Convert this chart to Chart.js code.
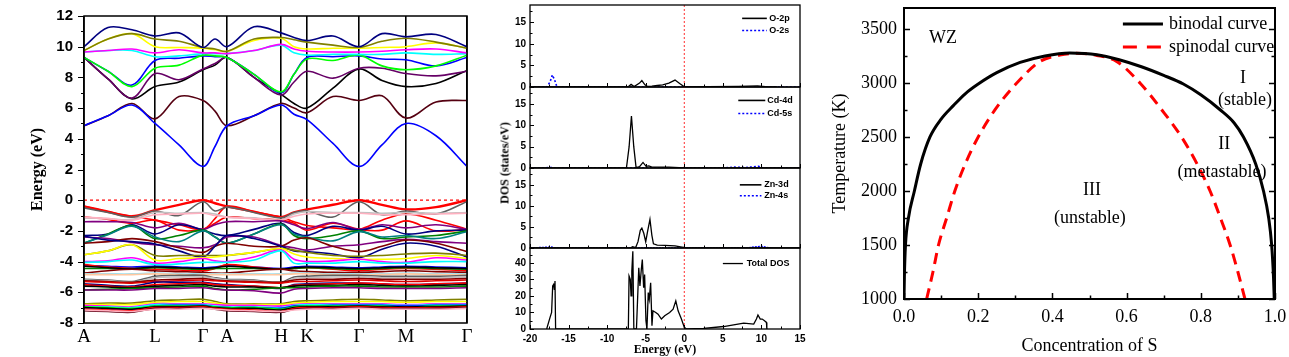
<!DOCTYPE html>
<html><head><meta charset="utf-8">
<script src="https://cdn.jsdelivr.net/npm/chart.js@4.4.1/dist/chart.umd.min.js"></script>
<style>
html,body{margin:0;padding:0;background:#fff;}
#wrap{position:relative;width:1289px;height:357px;overflow:hidden;background:#fff;}
canvas{position:absolute;}
#dosTitle{position:absolute;left:505px;top:163px;transform:translate(-50%,-50%) rotate(-90deg);font:bold 12px 'Liberation Serif',serif;white-space:nowrap;color:#000;}
</style></head><body>
<div id="wrap">
<canvas id="band" width="480" height="357" style="left:0;top:0;width:480px;height:357px"></canvas>
<canvas id="dos1" width="320" height="92" style="left:490px;top:0;width:320px;height:92px"></canvas>
<canvas id="dos2" width="320" height="91" style="left:490px;top:82px;width:320px;height:91px"></canvas>
<canvas id="dos3" width="320" height="90" style="left:490px;top:163px;width:320px;height:90px"></canvas>
<canvas id="dos4" width="320" height="114" style="left:490px;top:243px;width:320px;height:114px"></canvas>
<canvas id="phase" width="469" height="357" style="left:820px;top:0;width:469px;height:357px"></canvas>
<div id="dosTitle">DOS (states/eV)</div>
</div>
<script>
// ---------------- DATA ----------------
// Band structure: k-path positions (arbitrary units) and high-symmetry labels
const kPos = [0,24,48,71,95,119,131,143,170,197,210,223,249,275,298,322,352,383];
const kTicks = [0,71,119,143,197,223,275,322,383];
const kLabels = ['A','L','Γ','A','H','K','Γ','M','Γ'];

// conduction bands (eV)
const cbNavy    = [10.0,11.25,11.1,10.7,10.9,9.95,10.5,10.0,11.3,10.9,10.6,10.4,10.7,10.0,10.85,10.65,10.8,10.0];
const cbOlive   = [9.75,10.5,10.85,10.5,10.35,9.95,9.85,9.7,10.5,10.6,10.45,10.3,10.1,9.95,10.35,10.55,10.3,9.9];
const cbYellow  = [9.75,10.5,10.85,10.0,9.95,9.9,9.8,9.7,10.4,10.55,10.0,9.85,9.9,9.9,9.95,10.0,10.25,9.9];
const cbMagenta = [9.65,9.75,9.85,9.6,9.8,9.6,9.6,9.55,9.75,10.15,9.85,9.7,9.65,9.65,9.7,9.8,9.85,9.6];
const cbCyan    = [9.65,9.75,9.75,9.35,9.4,9.55,9.55,9.55,9.75,10.1,9.6,9.45,9.5,9.5,9.5,9.6,9.5,9.55];
const cbGreen   = [9.3,8.4,7.4,8.6,8.8,9.45,9.4,9.3,8.2,7.05,8.2,9.2,9.1,9.45,8.75,8.5,8.75,9.45];
const cbBlueHi  = [9.3,8.4,7.5,9.1,9.25,9.4,9.35,9.3,8.2,7.0,8.2,9.3,9.35,9.4,9.2,9.15,8.75,9.3];
const cbPurple  = [9.3,7.9,6.65,8.25,7.85,8.55,8.9,9.3,8.0,6.85,7.7,8.4,7.95,8.6,8.6,8.25,8.1,8.4];
const cbBlack   = [9.3,7.9,6.6,7.4,7.7,8.5,8.8,9.3,8.0,6.9,6.3,6.0,7.3,8.55,7.8,7.4,7.6,8.45];
const cbBlueLow = [4.85,5.5,6.2,5.0,3.6,2.2,3.5,4.85,5.5,6.2,5.6,5.25,3.7,2.2,3.6,5.0,4.2,2.2];
const cbBrown   = [4.85,5.5,6.3,5.3,6.75,6.5,5.8,4.85,5.5,6.3,6.0,5.7,6.75,6.5,6.8,5.35,6.4,6.5];

// valence bands (eV)
const vbRedTop   = [-0.4,-0.75,-1.05,-0.65,-0.3,0,-0.2,-0.4,-0.75,-1.1,-0.8,-0.6,-0.3,0,-0.3,-0.6,-0.45,0];
const vbRed2     = [-0.4,-0.75,-1.05,-1.3,-1.6,-1.9,-1.2,-0.4,-0.75,-1.1,-1.4,-1.65,-1.8,-1.9,-1.3,-0.9,-1.3,-1.9];
const vbRed3     = [-1.1,-1.25,-1.5,-1.3,-1.95,-1.9,-1.5,-1.1,-1.2,-1.3,-1.5,-1.95,-1.5,-1.9,-1.95,-1.35,-2.0,-1.9];
const vbGray     = [-0.5,-0.8,-1.1,-0.7,-1.0,-0.1,-0.7,-0.45,-0.8,-1.15,-0.8,-0.7,-1.1,-0.1,-0.95,-0.7,-0.9,-0.1];
const vbLightGray= [-1.15,-1.2,-1.25,-0.8,-0.85,-0.8,-0.9,-1.1,-1.15,-1.3,-0.9,-0.75,-0.8,-0.8,-0.85,-0.8,-0.85,-0.8];
const vbPink     = [-1.1,-1.2,-1.3,-0.95,-0.9,-0.85,-1.0,-1.1,-1.2,-1.3,-1.05,-0.9,-0.85,-0.85,-0.95,-0.95,-0.9,-0.85];
const vbPurple1  = [-1.4,-1.4,-1.45,-1.8,-1.5,-1.9,-1.6,-1.4,-1.4,-1.35,-1.6,-1.85,-1.45,-1.9,-1.6,-1.8,-1.6,-1.9];
const vbNavy1    = [-2.3,-2.2,-1.6,-2.2,-1.6,-1.95,-2.2,-2.3,-1.9,-1.5,-2.1,-2.3,-1.7,-1.95,-1.7,-2.2,-2.0,-1.95];
const vbGreen    = [-2.8,-2.2,-1.65,-2.5,-2.3,-1.95,-2.4,-2.8,-2.2,-1.55,-2.3,-2.5,-2.3,-2.0,-2.5,-2.4,-2.3,-2.0];
const vbTeal     = [-2.8,-2.25,-1.7,-2.4,-2.7,-2.0,-2.4,-2.8,-2.2,-1.6,-2.2,-2.4,-2.65,-2.05,-2.4,-2.3,-2.5,-2.05];
const vbPurple2  = [-2.4,-2.5,-2.75,-2.9,-3.0,-3.1,-2.9,-2.4,-2.4,-2.95,-3.1,-3.25,-3.0,-2.9,-2.7,-2.55,-2.7,-2.8];
const vbDarkRed  = [-2.8,-2.7,-2.5,-2.7,-3.1,-3.4,-3.0,-2.8,-3.0,-3.0,-2.6,-2.45,-3.0,-3.35,-3.0,-2.6,-2.8,-3.35];
const vbNavy2    = [-2.35,-2.6,-2.7,-2.85,-3.3,-3.7,-3.0,-2.3,-2.5,-3.0,-3.3,-3.35,-3.5,-3.75,-3.2,-2.8,-3.0,-3.7];
const vbOlive    = [-3.55,-3.3,-2.9,-3.6,-3.6,-3.6,-3.6,-3.6,-3.4,-3.15,-3.25,-3.4,-3.6,-3.65,-3.6,-3.5,-3.45,-3.6];
const vbYellow   = [-3.55,-3.3,-2.9,-3.9,-3.8,-3.75,-3.7,-3.6,-3.4,-3.15,-3.5,-3.7,-3.8,-3.85,-3.85,-3.8,-3.6,-3.8];
const vbMagenta  = [-4.0,-3.95,-3.75,-4.1,-4.0,-3.8,-3.95,-4.0,-3.7,-3.25,-3.85,-4.0,-3.95,-3.85,-4.0,-4.05,-3.75,-3.9];
const vbCyan     = [-4.05,-4.0,-3.9,-4.2,-4.15,-4.05,-4.05,-4.05,-3.9,-3.3,-4.1,-4.1,-4.1,-4.0,-4.1,-4.1,-4.0,-4.0];
const vbBlue     = [-4.25,-4.3,-4.35,-4.3,-4.35,-4.4,-4.35,-4.25,-4.35,-4.45,-4.35,-4.3,-4.35,-4.4,-4.35,-4.3,-4.35,-4.4];
const vbRed4     = [-4.2,-4.35,-4.45,-4.5,-4.55,-4.6,-4.45,-4.2,-4.35,-4.5,-4.45,-4.4,-4.5,-4.6,-4.5,-4.45,-4.5,-4.6];
const vbGreen2   = [-4.45,-4.45,-4.5,-4.4,-4.45,-4.5,-4.45,-4.45,-4.45,-4.5,-4.45,-4.4,-4.45,-4.5,-4.45,-4.4,-4.45,-4.5];
const vbBlack1   = [-4.3,-4.4,-4.45,-4.35,-4.4,-4.45,-4.4,-4.3,-4.4,-4.5,-4.4,-4.35,-4.4,-4.45,-4.4,-4.35,-4.4,-4.45];
const vbMaroon   = [-4.75,-4.6,-4.5,-4.6,-4.65,-4.7,-4.75,-4.75,-4.6,-4.5,-4.6,-4.65,-4.7,-4.7,-4.65,-4.6,-4.65,-4.7];
const vbLightBlue= [-4.8,-4.8,-4.8,-4.75,-4.8,-4.8,-4.8,-4.8,-4.8,-4.8,-4.75,-4.75,-4.8,-4.8,-4.8,-4.75,-4.8,-4.8];
const vbPeach    = [-4.85,-4.85,-4.85,-4.8,-4.85,-4.85,-4.85,-4.85,-4.85,-4.85,-4.8,-4.8,-4.85,-4.85,-4.85,-4.8,-4.85,-4.85];
const vbGray2    = [-5.15,-5.2,-5.3,-4.95,-4.9,-4.9,-5.05,-5.15,-5.2,-5.35,-5.0,-4.95,-4.9,-4.9,-4.95,-4.95,-4.95,-4.9];
const vbLightGray2=[-5.2,-5.25,-5.35,-5.05,-5.0,-5.0,-5.1,-5.2,-5.25,-5.4,-5.1,-5.05,-5.0,-5.0,-5.05,-5.05,-5.05,-5.0];
const vbMaroon2  = [-5.25,-5.3,-5.35,-5.2,-5.15,-5.1,-5.2,-5.25,-5.3,-5.35,-5.2,-5.15,-5.15,-5.1,-5.15,-5.15,-5.15,-5.1];
const vbRed5     = [-5.3,-5.35,-5.4,-5.3,-5.25,-5.2,-5.25,-5.3,-5.35,-5.4,-5.3,-5.3,-5.25,-5.2,-5.25,-5.3,-5.25,-5.2];
const vbNavy3    = [-5.45,-5.55,-5.6,-5.35,-5.35,-5.35,-5.45,-5.5,-5.6,-5.75,-5.5,-5.45,-5.4,-5.4,-5.45,-5.5,-5.45,-5.4];
const vbRed6     = [-5.5,-5.6,-5.65,-5.5,-5.45,-5.4,-5.5,-5.55,-5.6,-5.7,-5.55,-5.5,-5.45,-5.4,-5.45,-5.5,-5.45,-5.4];
const vbBlack2   = [-5.6,-5.65,-5.7,-5.6,-5.55,-5.5,-5.6,-5.65,-5.65,-5.7,-5.6,-5.55,-5.55,-5.5,-5.55,-5.6,-5.55,-5.5];
const vbGreen3   = [-5.85,-5.8,-5.75,-5.7,-5.65,-5.6,-5.75,-5.85,-5.8,-5.7,-5.7,-5.65,-5.6,-5.6,-5.65,-5.65,-5.65,-5.6];
const vbPurple3  = [-5.85,-5.85,-5.85,-5.75,-5.75,-5.7,-5.8,-5.85,-5.9,-6.05,-5.8,-5.75,-5.7,-5.7,-5.75,-5.75,-5.75,-5.7];
const vbOlive2   = [-6.75,-6.7,-6.7,-6.55,-6.5,-6.45,-6.6,-6.75,-6.75,-6.75,-6.6,-6.55,-6.5,-6.45,-6.5,-6.55,-6.5,-6.45];
const vbYellow2  = [-6.8,-6.8,-6.8,-6.65,-6.6,-6.6,-6.7,-6.8,-6.8,-6.8,-6.7,-6.65,-6.6,-6.6,-6.6,-6.65,-6.6,-6.6];
const vbMagenta2 = [-6.85,-6.9,-6.95,-6.75,-6.75,-6.75,-6.8,-6.85,-6.85,-6.9,-6.8,-6.75,-6.75,-6.75,-6.75,-6.8,-6.75,-6.75];
const vbCyan2    = [-6.95,-6.95,-7.0,-6.8,-6.8,-6.8,-6.9,-6.95,-6.95,-7.0,-6.85,-6.8,-6.8,-6.8,-6.8,-6.85,-6.8,-6.8];
const vbBlue2    = [-7.0,-7.05,-7.1,-6.9,-6.85,-6.85,-6.95,-7.0,-7.0,-7.05,-6.9,-6.9,-6.85,-6.85,-6.85,-6.9,-6.85,-6.85];
const vbGreen4   = [-6.95,-7.0,-7.05,-6.9,-6.9,-6.9,-6.95,-7.0,-7.0,-7.1,-6.95,-6.9,-6.9,-6.9,-6.9,-6.95,-6.9,-6.9];
const vbBlack3   = [-7.0,-7.05,-7.1,-6.95,-6.95,-6.9,-7.0,-7.05,-7.05,-7.15,-7.0,-6.95,-6.95,-6.9,-6.95,-6.95,-6.95,-6.9];
const vbRed7     = [-7.1,-7.15,-7.2,-7.0,-7.0,-6.95,-7.05,-7.1,-7.15,-7.25,-7.05,-7.0,-7.0,-6.95,-7.0,-7.0,-7.0,-6.95];
const vbBrown2   = [-7.2,-7.25,-7.3,-7.05,-7.05,-7.0,-7.1,-7.2,-7.25,-7.3,-7.1,-7.05,-7.05,-7.0,-7.05,-7.05,-7.05,-7.0];
const vbPink2    = [-7.15,-7.2,-7.25,-7.1,-7.1,-7.05,-7.1,-7.15,-7.2,-7.25,-7.15,-7.1,-7.1,-7.05,-7.1,-7.1,-7.1,-7.05];

// DOS curves: [energy (eV), states/eV]
const o2p  = [[-20,0],[-7.3,0],[-6.9,0.6],[-6.5,0.1],[-5.8,0.9],[-5.5,1.5],[-5.1,0.5],[-4.8,0.15],[-4.2,0.2],[-3.5,0.35],[-2.8,0.5],[-2.0,0.9],[-1.2,1.6],[-0.6,0.8],[0,0.05],[3,0.1],[7,0.15],[9.5,0.25],[10.5,0.1],[12,0]];
const o2s  = [[-20,0],[-17.8,0],[-17.4,1.2],[-17.1,2.8],[-16.8,1.6],[-16.5,0],[15,0]];
const cd4d = [[-20,0],[-7.5,0],[-7.15,5],[-6.85,12.2],[-6.55,5],[-6.25,0.1],[-5.8,0.3],[-5.35,1.3],[-4.95,0.4],[-4.6,0.5],[-4.2,0.2],[-2,0.2],[0,0.05],[15,0]];
const cd5s = [[-20,0],[-17.2,0.1],[-16.8,0],[5,0],[6.5,0.2],[8,0.1],[9.6,0.4],[10.2,0],[15,0]];
const zn3d = [[-20,0],[-7,0],[-6.7,0.3],[-6.3,0.1],[-6.0,1.5],[-5.7,4.2],[-5.5,4.7],[-5.25,3.5],[-5.0,1.5],[-4.75,4],[-4.45,6.8],[-4.2,3],[-4.0,1.0],[-3.5,0.7],[-2.5,0.6],[-1.2,0.5],[-0.3,0.2],[0.3,0],[15,0]];
const zn4s = [[-20,0],[-17.2,0.2],[-16.8,0],[8,0],[9.5,0.3],[10.2,0.35],[11,0],[11.5,0]];
const totalDos = [[-17.84,0],[-17.4,7],[-17.2,10],[-17.06,26],[-16.93,27],[-16.85,24],[-16.76,29],[-16.68,0],
  [-7.25,0],[-7.16,32],[-7.0,30],[-6.9,20],[-6.8,35],[-6.67,47],[-6.54,0],[-6.2,0],[-5.9,37],[-5.75,26],[-5.57,36],[-5.44,42],[-5.27,25],[-5.14,33],[-4.97,5],[-4.84,0],[-4.67,22],[-4.54,18],[-4.36,28],[-4.19,2],[-4.06,11],[-3.7,10],[-3.4,9],[-2.97,6],[-2.54,8],[-1.9,10],[-1.45,12],[-1.1,17],[-0.8,11],[-0.37,6],[0,1],[0.3,0],
  [2.5,0.3],[5.1,1.5],[6.4,2.5],[7.7,3.5],[9.0,3],[9.35,6],[9.55,8.5],[9.85,6],[10.1,6],[10.4,5],[10.65,4],[10.7,0],[10.8,0]];
const dosEnergyTicks = [-20,-15,-10,-5,0,5,10,15];

// Phase diagram
const binodalX = [0.0,0.001,0.004,0.012,0.028,0.045,0.07,0.1,0.133,0.165,0.2,0.25,0.313,0.38,0.447,0.52,0.58,0.64,0.7,0.753,0.8,0.852,0.89,0.915,0.948,0.969,0.983,0.991,0.996,0.998];
const binodalT = [1000,1200,1500,1750,2000,2250,2500,2665,2790,2900,2990,3095,3190,3250,3277,3262,3215,3150,3070,2990,2890,2752,2630,2500,2250,2000,1750,1500,1200,1000];
const spinodalX = [0.061,0.078,0.093,0.115,0.137,0.165,0.2,0.245,0.304,0.367,0.42,0.465,0.52,0.573,0.636,0.695,0.748,0.79,0.825,0.853,0.879,0.9,0.919];
const spinodalT = [1000,1250,1500,1750,2000,2250,2500,2750,3000,3200,3258,3275,3255,3200,3000,2750,2500,2250,2000,1750,1500,1250,1000];
const tempTicks = [1000,1500,2000,2500,3000,3500];
const concTicks = [0,0.2,0.4,0.6,0.8,1.0];

// ---------------- STYLE / SETUP ----------------
Chart.defaults.animation = false;
Chart.defaults.responsive = false;
Chart.defaults.devicePixelRatio = 1;
Chart.defaults.color = '#000';
Chart.defaults.plugins.legend.display = false;
Chart.defaults.plugins.tooltip.enabled = false;
Chart.defaults.events = [];

const SANS = "'Liberation Sans', Arial, sans-serif";
const SERIF = "'Liberation Serif', 'Times New Roman', serif";

function range(a, b, s) { const r = []; for (let v = a; v <= b + 1e-9; v += s) r.push(+v.toFixed(4)); return r; }
function pairsXY(xs, ys) { return xs.map((x, i) => ({x, y: ys[i]})); }
function pairsArr(p) { return p.map(([x, y]) => ({x, y})); }
function fixW(w) { return s => { s.width = w; s.paddingTop = 0; s.paddingBottom = 0; s.paddingLeft = 0; s.paddingRight = 0; }; }
function fixH(h) { return s => { s.height = h; s.paddingTop = 0; s.paddingBottom = 0; s.paddingLeft = 0; s.paddingRight = 0; }; }

function deco(cfg) {
  return {
    id: 'deco',
    afterDatasetsDraw(chart) {
      const ctx = chart.ctx, a = chart.chartArea;
      ctx.save();
      (cfg.ticks || []).forEach(t => {
        const sc = chart.scales[t.axis];
        const vals = t.values || sc.ticks.map(k => k.value);
        ctx.strokeStyle = '#000'; ctx.lineWidth = t.width || 1; ctx.setLineDash([]);
        ctx.beginPath();
        vals.forEach(v => {
          const p = Math.round(sc.getPixelForValue(v)) + 0.5;
          const L = t.len * (t.out ? -1 : 1);
          t.sides.forEach(s => {
            if (s === 'left') { ctx.moveTo(a.left, p); ctx.lineTo(a.left + L, p); }
            if (s === 'right') { ctx.moveTo(a.right, p); ctx.lineTo(a.right - L, p); }
            if (s === 'bottom') { ctx.moveTo(p, a.bottom); ctx.lineTo(p, a.bottom - L); }
            if (s === 'top') { ctx.moveTo(p, a.top); ctx.lineTo(p, a.top + L); }
          });
        });
        ctx.stroke();
      });
      if (cfg.frame) {
        ctx.lineWidth = cfg.frame; ctx.strokeStyle = '#000'; ctx.setLineDash([]);
        ctx.strokeRect(a.left, a.top, a.right - a.left, a.bottom - a.top);
      }
      const xs = chart.scales.x, ys = chart.scales.y;
      (cfg.legend || []).forEach(l => {
        const ds = chart.data.datasets[l.ds];
        const y = ys.getPixelForValue(l.y);
        ctx.strokeStyle = ds.borderColor; ctx.lineWidth = l.lw || ds.borderWidth;
        ctx.setLineDash(l.dash || ds.borderDash || []);
        ctx.beginPath(); ctx.moveTo(xs.getPixelForValue(l.x1), y); ctx.lineTo(xs.getPixelForValue(l.x2), y); ctx.stroke();
        ctx.setLineDash([]);
        ctx.fillStyle = '#000'; ctx.font = l.font; ctx.textAlign = 'left'; ctx.textBaseline = 'middle';
        ctx.fillText(ds.label, xs.getPixelForValue(l.tx), y);
      });
      (cfg.texts || []).forEach(t => {
        ctx.fillStyle = '#000'; ctx.font = t.font; ctx.textAlign = 'center'; ctx.textBaseline = 'middle';
        ctx.fillText(t.text, xs.getPixelForValue(t.x), ys.getPixelForValue(t.y));
      });
      ctx.restore();
    }
  };
}

// ---------------- BAND STRUCTURE ----------------
const bandOrder = [vbPink2, vbBrown2, vbRed7, vbBlack3, vbGreen4, vbBlue2, vbCyan2, vbMagenta2, vbYellow2, vbOlive2,
  vbPurple3, vbGreen3, vbBlack2, vbRed6, vbNavy3, vbRed5, vbMaroon2, vbLightGray2, vbGray2, vbPeach, vbLightBlue, vbMaroon,
  vbBlack1, vbGreen2, vbRed4, vbBlue, vbCyan, vbMagenta, vbYellow, vbOlive, vbNavy2, vbDarkRed, vbPurple2, vbTeal, vbGreen,
  vbNavy1, vbPurple1, vbPink, vbLightGray, vbGray, vbRed3, vbRed2, vbRedTop,
  cbNavy, cbOlive, cbYellow, cbMagenta, cbCyan, cbGreen, cbBlueHi, cbPurple, cbBlack, cbBlueLow, cbBrown];
const bandColors = ['#ffb0c0','#600014','#ff0000','#000000','#00ff00','#0000ff','#00ffff','#ff00ff','#ffff00','#808000',
  '#800080','#008000','#000000','#ff0000','#000080','#e00000','#800000','#c0c0c0','#606060','#ffc8a0','#a0e0f0','#800000',
  '#000000','#008000','#ff0000','#0000ff','#00ffff','#ff00ff','#ffff00','#808000','#000080','#800000','#800080','#008080','#008000',
  '#000080','#800080','#ffb0c0','#c0c0c0','#606060','#ff0000','#ff0000','#ff0000',
  '#000080','#808000','#ffff00','#ff00ff','#00ffff','#00ff00','#0000ff','#660066','#000000','#0000ff','#550011'];

const bandDatasets = [{
  data: [{x: kPos[0], y: 0}, {x: kPos[kPos.length - 1], y: 0}],
  borderColor: '#ff0000', borderWidth: 1.3, borderDash: [3, 3], showLine: true, pointRadius: 0
}].concat(bandOrder.map((vals, i) => ({
  data: pairsXY(kPos, vals), borderColor: bandColors[i], borderWidth: vals === vbRedTop ? 2.4 : 1.6,
  showLine: true, pointRadius: 0, tension: 0.35, fill: false
})));

new Chart(document.getElementById('band'), {
  type: 'scatter',
  data: { datasets: bandDatasets },
  options: {
    layout: { padding: { left: 0, top: 16, right: 13, bottom: 0 } },
    scales: {
      x: {
        type: 'linear', min: 0, max: 383, z: 1,
        afterBuildTicks: s => { s.ticks = kTicks.map(v => ({ value: v })); },
        afterFit: fixH(34),
        grid: { color: '#000', lineWidth: 1.6, drawTicks: false },
        border: { display: false },
        ticks: { autoSkip: false, maxRotation: 0, padding: 3, font: { family: SERIF, size: 19 },
                 callback: (v, i) => kLabels[i] }
      },
      y: {
        min: -8, max: 12,
        afterFit: fixW(84),
        grid: { display: false, drawTicks: false },
        border: { display: false },
        ticks: { stepSize: 2, padding: 11, font: { family: SANS, size: 15, weight: 'bold' } },
        title: { display: true, text: 'Energy (eV)', font: { family: SERIF, size: 16, weight: 'bold' }, padding: { top: 28, bottom: 0 } }
      }
    }
  },
  plugins: [deco({
    frame: 1.5,
    ticks: [
      { axis: 'y', len: 6, out: true, sides: ['left'], width: 1.2 },
      { axis: 'y', values: range(-7, 11, 2), len: 3, out: true, sides: ['left'], width: 1.2 }
    ]
  })]
});

// ---------------- DOS PANELS ----------------
function dosPanel(id, sets, yMax, yMajor, yMinor, isBottom, legend) {
  const datasets = sets.map(s => ({
    label: s.label, data: pairsArr(s.data), borderColor: s.color, borderWidth: s.dash ? 1.6 : 1.3,
    borderDash: s.dash || [], showLine: true, pointRadius: 0, tension: 0
  }));
  datasets.push({ data: [{x: 0, y: 0}, {x: 0, y: yMax}], borderColor: '#ff3030', borderWidth: 1, borderDash: [2, 2], showLine: true, pointRadius: 0 });
  const xScale = {
    type: 'linear', min: -20, max: 15,
    afterBuildTicks: s => { s.ticks = dosEnergyTicks.map(v => ({ value: v })); },
    afterFit: fixH(isBottom ? 28 : 0),
    grid: { display: false, drawTicks: false }, border: { display: false },
    display: isBottom
  };
  if (isBottom) {
    xScale.ticks = { autoSkip: false, maxRotation: 0, padding: 4, font: { family: SANS, size: 10, weight: 'bold' } };
    xScale.title = { display: true, text: 'Energy (eV)', font: { family: SERIF, size: 12, weight: 'bold' }, padding: { top: 0, bottom: 0 } };
  }
  new Chart(document.getElementById(id), {
    type: 'scatter',
    data: { datasets },
    options: {
      layout: { padding: { left: 0, top: 5, right: 10, bottom: isBottom ? 0 : 5 } },
      scales: {
        x: xScale,
        y: {
          min: 0, max: yMax,
          afterBuildTicks: s => { s.ticks = yMajor.map(v => ({ value: v })); },
          afterFit: fixW(40),
          grid: { display: false, drawTicks: false }, border: { display: false },
          ticks: { padding: 4, font: { family: SANS, size: 10, weight: 'bold' } }
        }
      }
    },
    plugins: [deco({
      frame: 1.3,
      legend,
      ticks: [
        { axis: 'y', len: 4, sides: ['left'] },
        { axis: 'y', values: yMinor, len: 2.5, sides: ['left'] },
        { axis: 'x', len: 4, sides: ['bottom'] },
        { axis: 'x', values: range(-17.5, 12.5, 5), len: 2.5, sides: ['bottom'] }
      ]
    })]
  });
}
const LEGF = 'bold 9px ' + SANS;
const dosMajor = [0, 5, 10, 15];
const dosMinor = [2.5, 7.5, 12.5, 17.5];
dosPanel('dos1', [
  { label: 'O-2p', data: o2p, color: '#000' },
  { label: 'O-2s', data: o2s, color: '#0000ff', dash: [2, 2] }
], 19, dosMajor, dosMinor, false, [
  { ds: 0, x1: 7.5, x2: 10.7, tx: 11.0, y: 15.9, font: LEGF, lw: 1.6 },
  { ds: 1, x1: 7.5, x2: 10.7, tx: 11.0, y: 13.1, font: LEGF, lw: 1.6 }
]);
dosPanel('dos2', [
  { label: 'Cd-4d', data: cd4d, color: '#000' },
  { label: 'Cd-5s', data: cd5s, color: '#0000ff', dash: [2, 2] }
], 19, dosMajor, dosMinor, false, [
  { ds: 0, x1: 7.0, x2: 10.5, tx: 10.75, y: 15.85, font: LEGF, lw: 1.6 },
  { ds: 1, x1: 7.0, x2: 10.5, tx: 10.75, y: 12.8, font: LEGF, lw: 1.6 }
]);
dosPanel('dos3', [
  { label: 'Zn-3d', data: zn3d, color: '#000' },
  { label: 'Zn-4s', data: zn4s, color: '#0000ff', dash: [2, 1] }
], 19, dosMajor, dosMinor, false, [
  { ds: 0, x1: 7.2, x2: 10.0, tx: 10.35, y: 15.0, font: LEGF, lw: 1.6 },
  { ds: 1, x1: 7.2, x2: 10.0, tx: 10.35, y: 12.4, font: LEGF, lw: 1.6, dash: [2, 2] }
]);
dosPanel('dos4', [
  { label: 'Total DOS', data: totalDos, color: '#000' }
], 49, [0, 10, 20, 30, 40], [5, 15, 25, 35, 45], true, [
  { ds: 0, x1: 5.0, x2: 7.6, tx: 8.1, y: 39.6, font: LEGF, lw: 1.3 }
]);

// ---------------- PHASE DIAGRAM ----------------
const PHF = '18px ' + SERIF;
new Chart(document.getElementById('phase'), {
  type: 'scatter',
  data: {
    datasets: [
      { label: 'binodal curve', data: pairsXY(binodalX, binodalT), borderColor: '#000', borderWidth: 3,
        showLine: true, pointRadius: 0, cubicInterpolationMode: 'monotone' },
      { label: 'spinodal curve', data: pairsXY(spinodalX, spinodalT), borderColor: '#ff0000', borderWidth: 3,
        borderDash: [11, 7], showLine: true, pointRadius: 0, cubicInterpolationMode: 'monotone' }
    ]
  },
  options: {
    layout: { padding: { left: 0, top: 8, right: 14, bottom: 0 } },
    scales: {
      x: {
        type: 'linear', min: 0, max: 1,
        afterBuildTicks: s => { s.ticks = concTicks.map(v => ({ value: v })); },
        afterFit: fixH(58),
        grid: { display: false, drawTicks: false }, border: { display: false },
        ticks: { autoSkip: false, maxRotation: 0, padding: 7, font: { family: SERIF, size: 18 }, callback: v => v.toFixed(1) },
        title: { display: true, text: 'Concentration of S', font: { family: SERIF, size: 18 }, padding: { top: 0, bottom: 0 } }
      },
      y: {
        min: 1000, max: 3694,
        afterBuildTicks: s => { s.ticks = tempTicks.map(v => ({ value: v })); },
        afterFit: fixW(84),
        grid: { display: false, drawTicks: false }, border: { display: false },
        ticks: { padding: 7, font: { family: SERIF, size: 18 }, callback: v => String(v) },
        title: { display: true, text: 'Temperature (K)', font: { family: SERIF, size: 18 }, padding: { top: 9, bottom: 0 } }
      }
    }
  },
  plugins: [deco({
    frame: 2,
    ticks: [
      { axis: 'y', len: 6, sides: ['left', 'right'], width: 1.5 },
      { axis: 'y', values: [1250, 1750, 2250, 2750, 3250], len: 3.5, sides: ['left', 'right'], width: 1.5 },
      { axis: 'x', len: 6, sides: ['bottom'], width: 1.5 },
      { axis: 'x', values: [0.1, 0.3, 0.5, 0.7, 0.9], len: 3.5, sides: ['bottom'], width: 1.5 }
    ],
    legend: [
      { ds: 0, x1: 0.59, x2: 0.698, tx: 0.714, y: 3546, font: PHF },
      { ds: 1, x1: 0.59, x2: 0.698, tx: 0.714, y: 3333, font: PHF, dash: [14, 10] }
    ],
    texts: [
      { text: 'WZ', x: 0.105, y: 3417, font: PHF },
      { text: 'I', x: 0.914, y: 3046, font: PHF },
      { text: '(stable)', x: 0.919, y: 2843, font: PHF },
      { text: 'II', x: 0.863, y: 2435, font: PHF },
      { text: '(metastable)', x: 0.857, y: 2176, font: PHF },
      { text: 'III', x: 0.507, y: 2009, font: PHF },
      { text: '(unstable)', x: 0.501, y: 1750, font: PHF }
    ]
  })]
});
</script>
</body></html>
